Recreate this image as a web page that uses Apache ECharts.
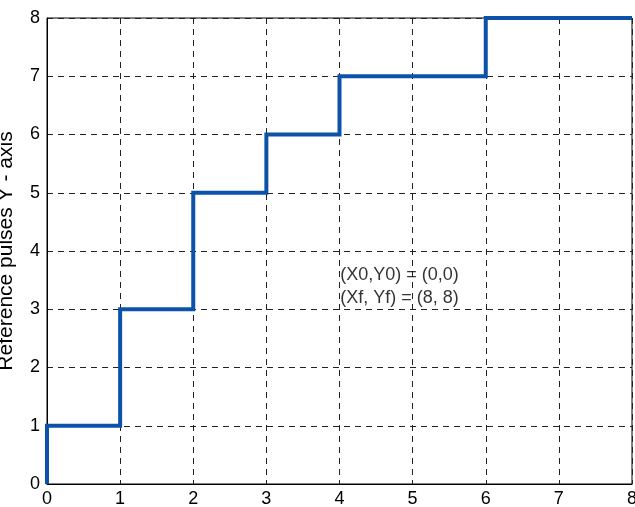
<!DOCTYPE html>
<html>
<head>
<meta charset="utf-8">
<script src="https://cdn.jsdelivr.net/npm/echarts@6/dist/echarts.min.js"></script>
<style>
html,body{margin:0;padding:0;background:#fff;}
#c{width:635px;height:507px;}
</style>
</head>
<body>
<div id="c"></div>
<script>
// Step path vertices (x, y)
const stepX = [0, 0, 1, 2, 3, 4, 6, 8];
const stepY = [0, 1, 3, 5, 6, 7, 8, 8];
const xTicks = [0, 1, 2, 3, 4, 5, 6, 7, 8];
const yTicks = [0, 1, 2, 3, 4, 5, 6, 7, 8];
const yAxisTitle = 'Reference pulses Y - axis';
const noteLines = ['(X0,Y0) = (0,0)', '(Xf, Yf) = (8, 8)'];
const notePosX = [4.01, 4.01];
const notePosY = [3.59, 3.19];

const chart = echarts.init(document.getElementById('c'), null, {renderer: 'canvas'});
const font = 'Liberation Sans, Arial, sans-serif';
const gridLine = {show: true, lineStyle: {color: '#222', type: [6, 5], width: 1}};
chart.setOption({
  animation: false,
  backgroundColor: '#fff',
  grid: {left: 47, right: 3, top: 18, bottom: 23, containLabel: false, outerBoundsMode: 'none',
    show: true, borderColor: '#000', borderWidth: 1, backgroundColor: 'transparent'},
  xAxis: {
    type: 'value', min: 0, max: 8, interval: 1,
    axisLine: {show: true, lineStyle: {color: '#000', width: 1}},
    axisTick: {show: false},
    splitLine: gridLine,
    axisLabel: {color: '#000', fontSize: 18, fontFamily: font, margin: 6, hideOverlap: false,
      formatter: v => xTicks.includes(v) ? String(v) : ''}
  },
  yAxis: {
    type: 'value', min: 0, max: 8, interval: 1,
    name: yAxisTitle, nameLocation: 'middle', nameGap: 30,
    nameTextStyle: {color: '#000', fontSize: 21, fontFamily: font},
    axisLine: {show: true, lineStyle: {color: '#000', width: 1}},
    axisTick: {show: false},
    splitLine: gridLine,
    axisLabel: {color: '#000', fontSize: 18, fontFamily: font, margin: 7,
      formatter: v => yTicks.includes(v) ? String(v) : ''}
  },
  series: [
    {
      type: 'line', step: 'end', clip: false, symbol: 'none',
      data: stepX.map((x, i) => [x, stepY[i]]),
      lineStyle: {color: '#0b52a8', width: 4, cap: 'butt', join: 'miter'}
    },
    {
      type: 'scatter', symbolSize: 0, silent: true,
      data: notePosX.map((x, i) => ({value: [x, notePosY[i]], label: {formatter: noteLines[i]}})),
      label: {show: true, position: 'right', distance: 0, color: '#000', fontSize: 18, fontFamily: font}
    }
  ]
});
</script>
</body>
</html>
